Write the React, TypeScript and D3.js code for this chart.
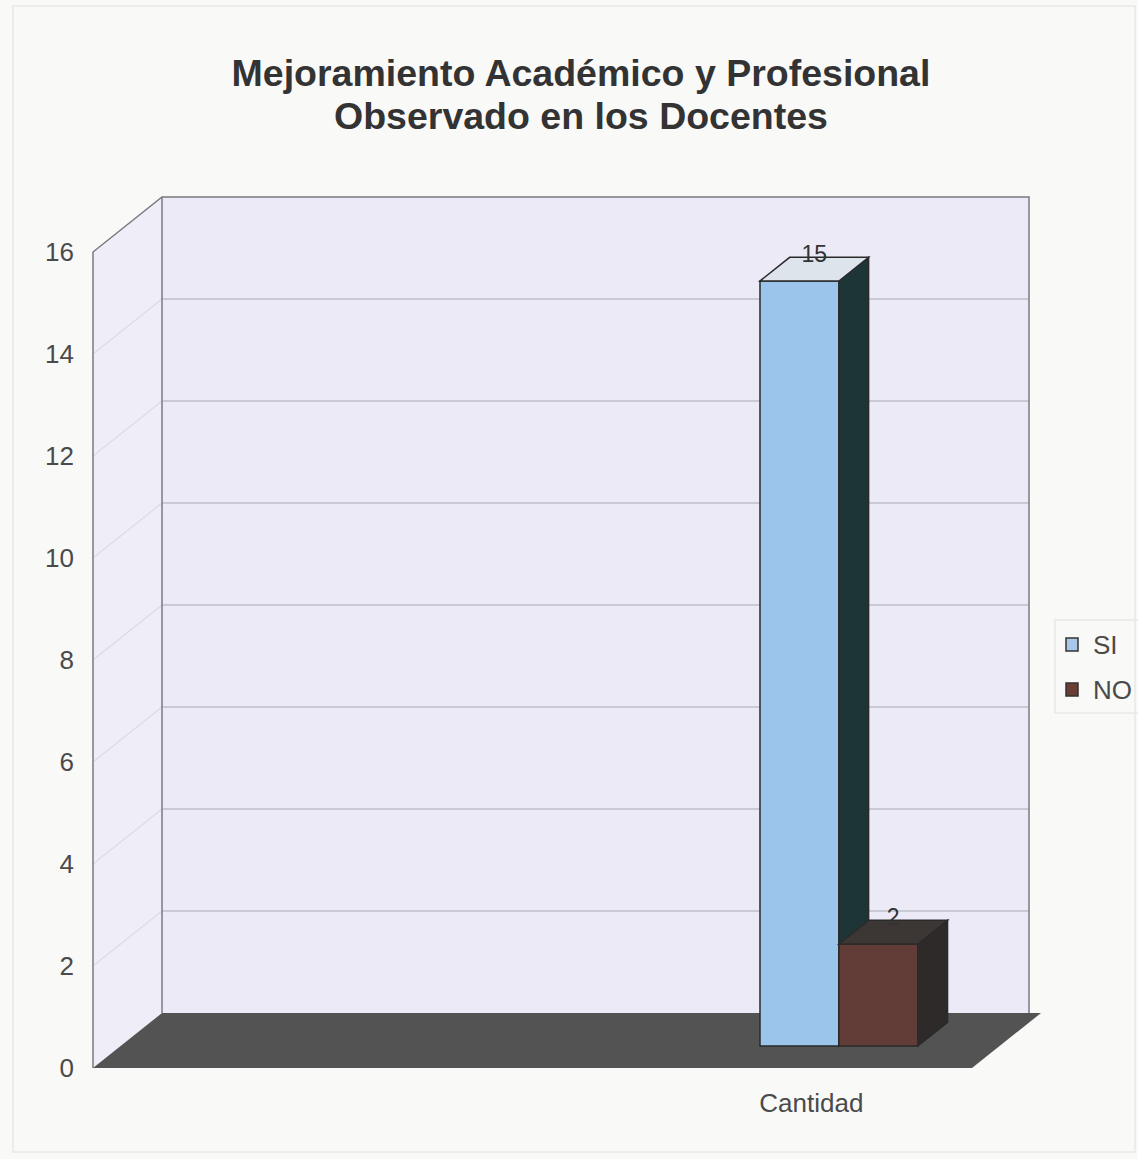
import React from "react";
import * as d3 from "d3";

const titleLines = ["Mejoramiento Académico y Profesional", "Observado en los Docentes"];
const categories = ["", "", "Cantidad"];
const seriesNames = ["SI", "NO"];
const siValues: (number | null)[] = [null, null, 15];
const noValues: (number | null)[] = [null, null, 2];
const yTicks = [0, 2, 4, 6, 8, 10, 12, 14, 16];

const W = 1138;
const H = 1159;
const DX = 69;
const DY = -55;
const D0 = 0.4;
const D1 = 0.83;

const colors = {
  SI: { front: "#9cc5ec", side: "#1e3538", top: "#dde4ec", legend: "#a9c8ea" },
  NO: { front: "#623c36", side: "#2d2a29", top: "#3c3634", legend: "#6a3d35" },
};

export default function App() {
  const y = d3.scaleLinear().domain([0, 16]).range([1068, 252]);
  const x0 = d3
    .scaleBand<number>()
    .domain(categories.map((_, i) => i))
    .range([93, 955])
    .paddingInner(0)
    .paddingOuter(0);
  const x1 = d3
    .scaleBand<string>()
    .domain(seriesNames)
    .range([0, x0.bandwidth()])
    .paddingInner(0)
    .paddingOuter(0.82);

  const P = (x: number, v: number, d: number): [number, number] => [x + DX * d, y(v) + DY * d];
  const poly = (pts: [number, number][]) => pts.map((p) => p.join(",")).join(" ");

  const xL = x0.range()[0];
  const xR = 960;

  const series = [
    { name: "SI", values: siValues },
    { name: "NO", values: noValues },
  ];

  const bars: React.ReactNode[] = [];
  categories.forEach((_, ci) => {
    series.forEach((s) => {
      const v = s.values[ci];
      if (v == null) return;
      const xl = (x0(ci) ?? 0) + (x1(s.name) ?? 0);
      const w = x1.bandwidth();
      const c = (colors as any)[s.name];
      const front = [P(xl, 0, D0), P(xl + w, 0, D0), P(xl + w, v, D0), P(xl, v, D0)];
      const side = [P(xl + w, 0, D0), P(xl + w, 0, D1), P(xl + w, v, D1), P(xl + w, v, D0)];
      const top = [P(xl, v, D0), P(xl + w, v, D0), P(xl + w, v, D1), P(xl, v, D1)];
      const lc = P(xl + w / 2, v, (D0 + D1) / 2);
      bars.push(
        <g key={s.name + ci}>
          <polygon points={poly(front)} fill={c.front} stroke="#2a2a2a" strokeWidth={1.5} />
          <polygon points={poly(side)} fill={c.side} stroke="#2a2a2a" strokeWidth={1.5} />
          <polygon points={poly(top)} fill={c.top} stroke="#2a2a2a" strokeWidth={1.5} />
          <text x={lc[0]} y={lc[1] - 7} textAnchor="middle" fontSize={23} fill="#333">
            {v}
          </text>
        </g>
      );
    });
  });

  const font = "'Liberation Sans', Arial, sans-serif";

  return (
    <svg width={W} height={H} style={{ display: "block", position: "absolute", left: 0, top: 0 }} fontFamily={font}>
      <rect x={0} y={0} width={W} height={H} fill="#f9f9f7" />
      <rect x={13} y={6} width={1122} height={1146} fill="none" stroke="#e8e8e6" strokeWidth={1.5} />

      {titleLines.map((t, i) => (
        <text key={i} x={581} y={86 + i * 43} textAnchor="middle" fontSize={37.5} fontWeight="bold" fill="#333">
          {t}
        </text>
      ))}

      {/* back wall */}
      <polygon points={poly([P(xL, 0, 1), P(xR, 0, 1), P(xR, 16, 1), P(xL, 16, 1)])} fill="#ebeaf6" />
      {/* side wall */}
      <polygon points={poly([P(xL, 0, 0), P(xL, 16, 0), P(xL, 16, 1), P(xL, 0, 1)])} fill="#efeef8" />

      {/* gridlines */}
      {yTicks.filter((t) => t > 0 && t < 16).map((t) => (
        <g key={t}>
          <line x1={P(xL, t, 1)[0]} y1={P(xL, t, 1)[1]} x2={P(xR, t, 1)[0]} y2={P(xR, t, 1)[1]} stroke="#a9a9b0" strokeWidth={1.2} />
          <line x1={P(xL, t, 0)[0]} y1={P(xL, t, 0)[1]} x2={P(xL, t, 1)[0]} y2={P(xL, t, 1)[1]} stroke="#dcdbe6" strokeWidth={1.2} />
        </g>
      ))}

      {/* wall edges */}
      <polyline points={poly([P(xL, 0, 0), P(xL, 16, 0), P(xL, 16, 1), P(xR, 16, 1), P(xR, 0, 1)])} fill="none" stroke="#7a7a80" strokeWidth={1.5} />
      <line x1={P(xL, 0, 1)[0]} y1={P(xL, 0, 1)[1]} x2={P(xL, 16, 1)[0]} y2={P(xL, 16, 1)[1]} stroke="#7a7a80" strokeWidth={1.5} />

      {/* floor */}
      <polygon points={poly([P(xL, 0, 0), P(xR + 12, 0, 0), P(xR + 12, 0, 1), P(xL, 0, 1)])} fill="#535353" />

      {bars}

      {/* y tick labels */}
      {yTicks.map((t) => (
        <text key={t} x={74} y={y(t) + 9} textAnchor="end" fontSize={26} fill="#4a4a4a">
          {t}
        </text>
      ))}

      {/* category labels */}
      {categories.map((c, i) =>
        c ? (
          <text key={i} x={(x0(i) ?? 0) + x0.bandwidth() / 2} y={1112} textAnchor="middle" fontSize={26} fill="#4a4a4a">
            {c}
          </text>
        ) : null
      )}

      {/* legend */}
      <rect x={1055} y={620} width={90} height={93} fill="none" stroke="#e8e8e8" strokeWidth={1.5} />
      {seriesNames.map((n, i) => (
        <g key={n}>
          <rect x={1066} y={638 + i * 45} width={12} height={13} fill={(colors as any)[n].legend} stroke="#333" strokeWidth={1.5} />
          <text x={1093} y={654 + i * 45} fontSize={26} fill="#4a4a4a">
            {n}
          </text>
        </g>
      ))}
    </svg>
  );
}
